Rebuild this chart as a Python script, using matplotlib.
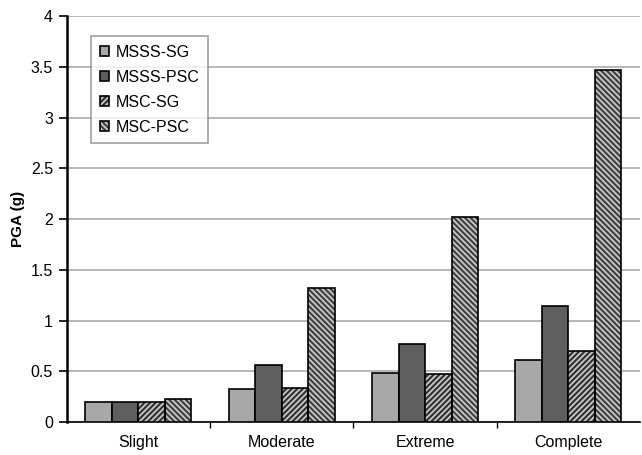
import matplotlib.pyplot as plt
import numpy as np
from matplotlib.legend_handler import HandlerTuple

plt.rcParams['font.family'] = ['Liberation Sans', 'DejaVu Sans']
plt.rcParams['hatch.linewidth'] = 1.3

# Data
categories = ['Slight', 'Moderate', 'Extreme', 'Complete']
series_names = ['MSSS-SG', 'MSSS-PSC', 'MSC-SG', 'MSC-PSC']
msss_sg = [0.20, 0.33, 0.48, 0.61]
msss_psc = [0.20, 0.56, 0.77, 1.14]
msc_sg = [0.20, 0.34, 0.47, 0.70]
msc_psc = [0.23, 1.32, 2.02, 3.47]

values = [msss_sg, msss_psc, msc_sg, msc_psc]
# (face colour, hatch colour, hatch)
styles = [('#a8a8a8', None, None),
          ('#5e5e5e', None, None),
          ('#303030', '#c8c8c8', '//////'),
          ('#404040', '#c8c8c8', '\\\\\\\\\\\\')]

fig = plt.figure(figsize=(6.42, 4.55), dpi=100)
ax = fig.add_axes([0.104, 0.072, 0.893, 0.893])

x = np.arange(len(categories))
width = 0.185
handles = []
for i, (vals, (fc, hc, hatch)) in enumerate(zip(values, styles)):
    pos = x + (i - 1.5) * width
    if hatch:
        b1 = ax.bar(pos, vals, width, color=fc, edgecolor=hc, hatch=hatch, linewidth=0, zorder=3)
        b2 = ax.bar(pos, vals, width, fill=False, edgecolor='black', linewidth=1.2, zorder=4)
        handles.append((b1[0], b2[0]))
    else:
        b = ax.bar(pos, vals, width, color=fc, edgecolor='black', linewidth=1.2, zorder=3)
        handles.append(b[0])

ax.set_xlim(-0.5, len(categories) - 0.5)
ax.set_ylim(0, 4)
ax.set_yticks(np.arange(0, 4.01, 0.5))
ax.set_yticklabels(['0', '0.5', '1', '1.5', '2', '2.5', '3', '3.5', '4'], fontsize=11.5)
ax.set_xticks(x)
ax.set_xticklabels(categories, fontsize=11.5)
ax.tick_params(axis='x', which='major', length=0, pad=9)
ax.set_xticks(np.arange(0.5, len(categories) - 0.5, 1), minor=True)
ax.tick_params(axis='x', which='minor', length=4, width=1)
ax.tick_params(axis='y', length=6, width=1.2, pad=4)

ax.yaxis.grid(True, color='#aaaaaa', linewidth=1.2, zorder=0)
ax.set_axisbelow(True)
for s in ['top', 'right']:
    ax.spines[s].set_visible(False)
ax.spines['left'].set_linewidth(1.8)
ax.spines['bottom'].set_linewidth(1.2)

ax.set_ylabel('PGA (g)', fontsize=11, fontweight='bold', labelpad=4)

leg = ax.legend(handles, series_names, loc='upper left', bbox_to_anchor=(0.028, 0.97),
                fontsize=11.5, frameon=True, fancybox=False, edgecolor='#888888',
                handlelength=0.6, handleheight=0.6, handletextpad=0.4,
                labelspacing=0.62, borderpad=0.55,
                handler_map={tuple: HandlerTuple(ndivide=1, pad=0)})
leg.get_frame().set_linewidth(1.2)

plt.savefig('out.png', dpi=100)
